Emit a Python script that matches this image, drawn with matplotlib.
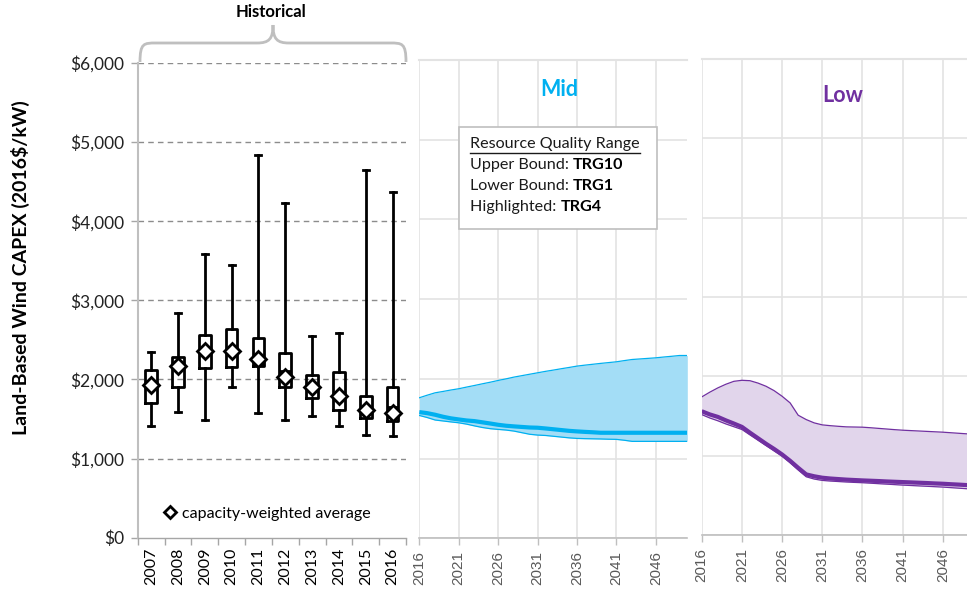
import matplotlib
matplotlib.use("Agg")
import matplotlib.pyplot as plt
from matplotlib.path import Path
from matplotlib.patches import PathPatch
from matplotlib.lines import Line2D
import numpy as np

# ---------------- data ----------------
hist_years = ["2007", "2008", "2009", "2010", "2011", "2012", "2013", "2014", "2015", "2016"]
whisker_low = [1414, 1595, 1489, 1907, 1578, 1489, 1536, 1414, 1295, 1282]
box_q1 = [1705, 1903, 2143, 2156, 2173, 1903, 1768, 1616, 1510, 1481]
box_median = [1940, 2207, 2338, 2359, 2200, 2101, 1924, 1818, 1650, 1658]
box_q3 = [2114, 2283, 2557, 2641, 2523, 2333, 2059, 2093, 1789, 1911]
whisker_high = [2346, 2835, 3582, 3451, 4831, 4232, 2553, 2582, 4650, 4367]
cw_average = [1924, 2165, 2354, 2354, 2253, 2030, 1903, 1785, 1616, 1574]

proj_years = list(range(2016, 2051))
mid_upper = [1763, 1795, 1825, 1842, 1860, 1876, 1897, 1917, 1938, 1958, 1980, 2000, 2022, 2040,
             2058, 2076, 2094, 2110, 2127, 2143, 2160, 2172, 2183, 2194, 2204, 2214, 2229, 2243,
             2250, 2257, 2264, 2274, 2283, 2293, 2293]
mid_trg4 = [1583, 1570, 1550, 1525, 1505, 1491, 1478, 1470, 1455, 1440, 1424, 1412, 1404, 1397,
            1390, 1387, 1378, 1368, 1358, 1348, 1341, 1335, 1330, 1324, 1324, 1324, 1324, 1324,
            1324, 1324, 1324, 1324, 1324, 1324, 1324]
mid_lower = [1541, 1515, 1484, 1472, 1460, 1449, 1432, 1410, 1390, 1375, 1366, 1358, 1345, 1325,
             1305, 1295, 1290, 1280, 1270, 1260, 1253, 1250, 1248, 1246, 1243, 1241, 1230, 1216,
             1216, 1216, 1216, 1216, 1216, 1216, 1216]
low_upper = [1740, 1800, 1854, 1900, 1937, 1950, 1945, 1915, 1875, 1820, 1749, 1665, 1510, 1455,
             1413, 1388, 1378, 1370, 1363, 1361, 1359, 1352, 1344, 1336, 1328, 1321, 1316, 1311,
             1306, 1301, 1296, 1289, 1282, 1275, 1270]
low_trg4 = [1560, 1520, 1489, 1445, 1405, 1363, 1290, 1220, 1150, 1085, 1015, 935, 847, 764,
            740, 722, 712, 705, 698, 693, 688, 684, 680, 675, 671, 667, 663, 659,
            655, 650, 646, 640, 635, 629, 625]
low_lower = [1518, 1475, 1440, 1400, 1365, 1330, 1262, 1195, 1128, 1060, 994, 910, 820, 734,
             705, 688, 680, 674, 668, 663, 659, 653, 647, 641, 635, 629, 624, 619,
             614, 609, 604, 597, 590, 583, 578]

y_ticks = [0, 1000, 2000, 3000, 4000, 5000, 6000]
y_ticklabels = ["$0", "$1,000", "$2,000", "$3,000", "$4,000", "$5,000", "$6,000"]
proj_ticks = [2016, 2021, 2026, 2031, 2036, 2041, 2046]

# ---------------- figure ----------------
W, H = 967, 594
fig = plt.figure(figsize=(W / 100, H / 100), dpi=100)
fig.patch.set_facecolor("white")

def fx(px):
    return px / W

def fy(py):
    return 1 - py / H

calfont = ["Lato", "DejaVu Sans"]
arial = ["Liberation Sans", "DejaVu Sans"]

# ---------- historical box plot ----------
ax0 = fig.add_axes([fx(137.7), fy(537.7), fx(406) - fx(137.7), fy(63) - fy(537.7)])
stats = []
for i in range(len(hist_years)):
    stats.append(dict(label=hist_years[i], whislo=whisker_low[i], q1=box_q1[i],
                      med=box_median[i], q3=box_q3[i], whishi=whisker_high[i],
                      mean=cw_average[i]))
pos = np.arange(1, len(hist_years) + 1)
ax0.bxp(stats, positions=pos, widths=0.43, showmeans=True, showfliers=False,
        boxprops=dict(color="black", linewidth=2),
        whiskerprops=dict(color="black", linewidth=2),
        capprops=dict(color="black", linewidth=2),
        medianprops=dict(color="black", linewidth=2),
        meanprops=dict(marker="D", markerfacecolor="white", markeredgecolor="black",
                       markersize=8.5, markeredgewidth=2),
        capwidths=0.22)
ax0.set_xlim(0.5, len(hist_years) + 0.5)
ax0.set_ylim(0, 6000)
ax0.set_yticks(y_ticks)
ax0.set_yticklabels(y_ticklabels, family=calfont, fontsize=12.5, color="#222222")
ax0.set_xticks(pos)
ax0.set_xticklabels(hist_years, rotation=90, family=calfont, fontsize=11.5, color="black")
ax0.set_xticks(np.arange(0.5, len(hist_years) + 1), minor=True)
ax0.tick_params(axis="x", which="major", length=0, pad=7)
ax0.tick_params(axis="x", which="minor", length=5, color="#A6A6A6", width=1)
ax0.tick_params(axis="y", length=5, color="#A6A6A6", width=1, pad=5)
for y in y_ticks[1:]:
    ax0.axhline(y, color="#8C8C8C", linestyle=(0, (4, 3)), linewidth=1, zorder=0)
for s in ["top", "right"]:
    ax0.spines[s].set_visible(False)
ax0.spines["left"].set_color("#BFBFBF")
ax0.spines["left"].set_linewidth(1.5)
ax0.spines["bottom"].set_color("#A6A6A6")
ax0.spines["bottom"].set_linewidth(1)

leg_handle = Line2D([], [], linestyle="none", marker="D", markerfacecolor="white",
                    markeredgecolor="black", markeredgewidth=2, markersize=6)
leg = ax0.legend([leg_handle], ["capacity-weighted average"], loc="center left",
                 bbox_to_anchor=(0.05, 0.05), frameon=False, handlelength=0.6,
                 handletextpad=0.45, prop=dict(family=calfont, size=11.5))

# ---------- projection panels ----------
def proj_panel(rect, xmax, upper, trg4, lower, fill_c, line_c, title, title_pos):
    ax = fig.add_axes(rect)
    ax.fill_between(proj_years, lower, upper, color=fill_c, linewidth=0, zorder=2)
    ax.plot(proj_years, upper, color=line_c, linewidth=0.9, zorder=3)
    ax.plot(proj_years, lower, color=line_c, linewidth=0.9, zorder=3)
    ax.plot(proj_years, trg4, color=line_c, linewidth=3, zorder=4, solid_capstyle="butt")
    ax.set_xlim(2016, xmax)
    ax.set_ylim(0, 6000)
    ax.set_yticks(y_ticks)
    ax.set_yticklabels([])
    ax.tick_params(axis="y", length=0)
    ax.set_xticks(proj_ticks)
    ax.set_xticklabels([str(t) for t in proj_ticks], rotation=90, family=arial,
                       fontsize=11, color="#595959")
    ax.tick_params(axis="x", length=5, color="#BFBFBF", width=1, pad=4)
    ax.grid(True, color="#E3E3E3", linewidth=1.2, zorder=0)
    ax.set_axisbelow(True)
    for s in ["top", "right", "left"]:
        ax.spines[s].set_visible(False)
    ax.spines["bottom"].set_color("#BFBFBF")
    ax.spines["bottom"].set_linewidth(1.2)
    ax.axhline(6000, color="#E3E3E3", linewidth=1.5, zorder=0, clip_on=False)
    fig.text(fx(title_pos[0]), fy(title_pos[1]), title, color=line_c, fontsize=15.5,
             fontweight="bold", family=calfont, ha="center", va="center")
    return ax

ax1 = proj_panel([fx(419.3), fy(538.3), fx(687.3) - fx(419.3), fy(60) - fy(538.3)], 2050,
                 mid_upper, mid_trg4, mid_lower, "#A3DDF6", "#00B0F0", "Mid", (559, 90))
ax2 = proj_panel([fx(701.7), fy(535), 1 - fx(701.7), fy(59) - fy(535)], 2049,
                 low_upper, low_trg4, low_lower, "#E1D5EB", "#7030A0", "Low", (843, 95))

# ---------- info box in Mid panel ----------
box = plt.Rectangle((fx(459), fy(229.3)), fx(657.3) - fx(459), fy(126.7) - fy(229.3),
                    transform=fig.transFigure, facecolor="white", edgecolor="#BFBFBF",
                    linewidth=1.2, zorder=5)
fig.patches.append(box)
tx = fx(470)
fs_box = 11.6
t0 = fig.text(tx, fy(144), "Resource Quality Range", family=calfont, fontsize=fs_box,
              color="#1a1a1a", va="center", zorder=6)
fig.canvas.draw()
bb = t0.get_window_extent()
fig.add_artist(Line2D([bb.x0 / W, bb.x1 / W], [fy(152.5), fy(152.5)],
                      transform=fig.transFigure, color="#1a1a1a", linewidth=1, zorder=6))
lines = [("Upper Bound: ", "TRG10", 165), ("Lower Bound: ", "TRG1", 186),
         ("Highlighted: ", "TRG4", 207)]
for normal, bold, ypx in lines:
    t1 = fig.text(tx, fy(ypx), normal, family=calfont, fontsize=fs_box, color="#1a1a1a",
                  va="center", zorder=6)
    fig.canvas.draw()
    e = t1.get_window_extent()
    fig.text(e.x1 / W, fy(ypx), bold, family=calfont, fontsize=fs_box, fontweight="bold",
             color="black", va="center", zorder=6)

# ---------- y label ----------
fig.text(fx(20), fy(268), "Land-Based Wind CAPEX (2016$/kW)", rotation=90, family=calfont,
         fontsize=14, fontweight="bold", ha="center", va="center", color="black")

# ---------- Historical brace ----------
L, R, C = 140, 406, 273
yb, ym, yt = 62, 43, 25
verts = [(L, yb), (L, ym), (L + 4, ym), (L + 16, ym),
         (C - 16, ym), (C - 4, ym), (C, ym - 4), (C, yt),
         (C, ym - 4), (C + 4, ym), (C + 16, ym),
         (R - 16, ym), (R - 4, ym), (R, ym), (R, yb)]
codes = [Path.MOVETO, Path.CURVE4, Path.CURVE4, Path.CURVE4,
         Path.LINETO, Path.CURVE4, Path.CURVE4, Path.CURVE4,
         Path.CURVE4, Path.CURVE4, Path.CURVE4,
         Path.LINETO, Path.CURVE4, Path.CURVE4, Path.CURVE4]
verts_f = [(fx(x), fy(y)) for x, y in verts]
brace = PathPatch(Path(verts_f, codes), transform=fig.transFigure, facecolor="none",
                  edgecolor="#BFBFBF", linewidth=2)
fig.patches.append(brace)
fig.text(fx(271), fy(12), "Historical", family=calfont, fontsize=12, fontweight="bold",
         ha="center", va="center", color="black")

fig.savefig("out.png", dpi=100, facecolor="white")
